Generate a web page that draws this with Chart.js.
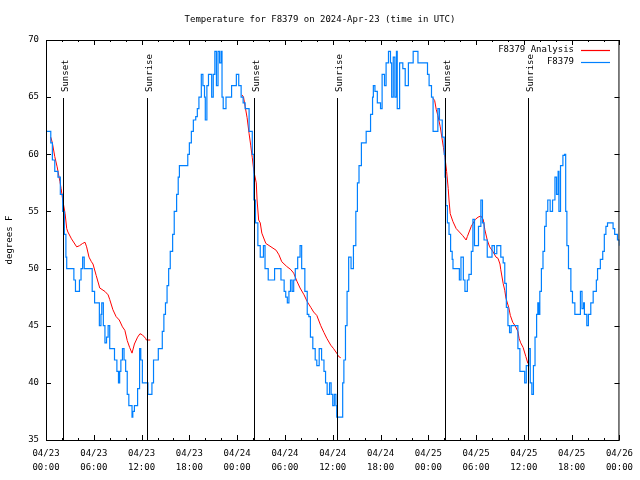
<!DOCTYPE html>
<html>
<head>
<meta charset="utf-8">
<script src="https://cdn.jsdelivr.net/npm/chart.js@4.4.1/dist/chart.umd.min.js"></script>
<style>
  html, body { margin: 0; padding: 0; background: #fff; }
  canvas { display: block; }
</style>
</head>
<body>
<canvas id="chart" width="640" height="480"></canvas>
<script>
// hours since 2024-04-23 00:00 UTC
const tickDates = ["04/23", "04/23", "04/23", "04/23", "04/24", "04/24", "04/24", "04/24", "04/25", "04/25", "04/25", "04/25", "04/26"];
const tickTimes = ["00:00", "06:00", "12:00", "18:00", "00:00", "06:00", "12:00", "18:00", "00:00", "06:00", "12:00", "18:00", "00:00"];

const sunHours = [2.15, 12.65, 26.12, 36.53, 50.15, 60.5];
const sunLabels = ["Sunset", "Sunrise", "Sunset", "Sunrise", "Sunset", "Sunrise"];

const stationHours = [
  0, 0.4, 0.6, 0.8, 1.1, 1.5, 1.8, 2.1, 2.3, 2.5, 2.6, 3.25, 3.5, 3.7, 3.95, 4.2, 4.4, 4.6, 4.8, 5.6,
  5.8, 6.1, 6.5, 6.7, 6.9, 7.0, 7.2, 7.4, 7.6, 7.8, 8.0, 8.3, 8.6, 8.9, 9.1, 9.25, 9.4, 9.6, 9.8, 10.0,
  10.2, 10.4, 10.6, 10.8, 10.9, 11.1, 11.4, 11.5, 11.75, 11.9, 12.1, 12.6, 12.8, 13.1, 13.3, 13.5, 13.9, 14.1, 14.4, 14.6,
  14.8, 15.0, 15.2, 15.4, 15.6, 15.9, 16.1, 16.4, 16.6, 16.75, 17.6, 17.8, 18.0, 18.25, 18.5, 18.8, 19.0, 19.2, 19.5, 19.7,
  19.9, 20.0, 20.2, 20.4, 20.6, 20.8, 21.0, 21.2, 21.4, 21.6, 21.8, 22.0, 22.1, 22.25, 22.6, 23.0, 23.3, 23.7, 23.9, 24.2,
  24.5, 24.75, 25.0, 25.5, 25.9, 26.1, 26.3, 26.6, 26.9, 27.1, 27.3, 27.5, 27.9, 28.4, 28.7, 29.2, 29.5, 29.9, 30.1, 30.3,
  30.5, 30.7, 30.9, 31.1, 31.3, 31.6, 31.9, 32.1, 32.5, 32.8, 33.0, 33.2, 33.5, 33.8, 34.0, 34.3, 34.6, 34.9, 35.1, 35.3,
  35.6, 35.8, 36.0, 36.2, 36.4, 36.5, 37.0, 37.25, 37.4, 37.6, 37.8, 38.0, 38.3, 38.6, 38.9, 39.1, 39.3, 39.6, 39.9, 40.2,
  40.75, 41.0, 41.1, 41.3, 41.6, 42.0, 42.2, 42.5, 42.7, 43.0, 43.25, 43.4, 43.6, 43.8, 44.0, 44.1, 44.4, 44.8, 45.1, 45.5,
  46.1, 46.4, 46.7, 47.75, 47.9, 48.1, 48.4, 48.6, 49.0, 49.2, 49.4, 49.75, 50.0, 50.1, 50.2, 50.4, 50.6, 50.8, 51.0, 51.1,
  51.75, 51.9, 52.1, 52.4, 52.6, 52.9, 53.1, 53.4, 53.6, 53.8, 54.1, 54.3, 54.6, 54.8, 55.0, 55.4, 55.8, 56.0, 56.3, 56.6,
  56.9, 57.1, 57.4, 57.6, 57.8, 58.0, 58.2, 58.4, 58.75, 59.1, 59.25, 59.5, 59.9, 60.1, 60.3, 60.6, 60.8, 61.0, 61.2, 61.4,
  61.6, 61.75, 61.9, 62.0, 62.2, 62.4, 62.6, 62.8, 63.0, 63.3, 63.6, 63.9, 64.1, 64.3, 64.4, 64.6, 64.9, 65.1, 65.25, 65.4,
  65.6, 65.9, 66.1, 66.4, 67.0, 67.1, 67.3, 67.5, 67.6, 67.9, 68.1, 68.4, 68.7, 68.9, 69.1, 69.25, 69.6, 69.9, 70.1, 70.3,
  70.5, 71.0, 71.2, 71.4, 71.75, 72.0
];
const stationTemps = [
  62, 62, 61, 59.5, 58.5, 58, 56.5, 55, 53, 51, 50, 50, 49, 48, 48, 49, 50, 51, 50, 50,
  48, 47, 47, 45, 46, 47, 45, 43.5, 44, 45, 43, 43, 42, 41, 40, 41, 42, 43, 42, 41,
  39, 38, 38, 37, 37.5, 38, 38, 39.5, 43, 42, 40, 40, 39, 39, 40, 42, 42, 43, 43, 44.5,
  46, 47, 48.5, 50, 51.5, 53, 55, 56.5, 58, 59, 59, 60, 61, 62, 63, 63.3, 64, 65, 67, 66,
  65, 63, 66, 67, 67, 65, 67, 69, 66, 69, 68, 69, 65, 64, 65, 65, 66, 66, 67, 66,
  65, 64.5, 64, 62, 60, 56, 54, 52, 51, 51, 52, 50, 49, 49, 50, 50, 49, 48, 47.5, 47,
  48, 49, 48, 49, 50, 51, 52, 50, 48, 46, 45.8, 44, 43, 42, 41.5, 43, 42, 41, 40, 39,
  40, 39, 38, 39, 38, 37, 37, 40, 42, 45, 48, 51, 50, 52, 55, 57.5, 59, 61, 61, 62,
  63.5, 65, 66, 65.5, 64.5, 64, 67, 66, 68, 69, 68, 65, 68.5, 65, 69, 64, 68, 67.5, 66, 68,
  69, 69, 68, 68, 67, 66, 65, 62, 62, 64, 63, 61.5, 60, 58, 55.5, 54, 53, 51.5, 50.8, 50,
  50, 49, 51, 49, 48, 49, 49.5, 51.5, 54.3, 52, 52, 53.7, 56, 54, 52.5, 51, 51, 52, 51.3, 52,
  52, 51, 50.5, 48.7, 46.6, 45, 44.4, 45, 45, 45, 43, 41, 41, 40, 41.5, 43, 40, 39, 41.5, 44,
  46, 47, 46, 48, 50, 51.5, 53.7, 55, 56, 55, 56, 58, 56.5, 58.5, 55, 59, 59.9, 60, 55, 52,
  50, 48, 47, 46, 46, 48, 46.5, 47, 46, 45, 46, 47, 48, 48, 49, 50, 50.8, 51.5, 53, 53.7,
  54, 54, 53.5, 53, 52.5, 52
];

// null = gap between analysis runs
const analysisHours = [
  0.6, 0.8, 1.1, 1.4, 1.75, 1.9, 2.1, 2.4, 2.6, 2.75, 3.2, 3.85, 4.2, 4.6, 4.9, 5.1, 5.4, 5.7, 5.9, 6.3,
  6.75, 7.4, 7.8, 8.0, 8.4, 8.8, 9.2, 9.6, 9.9, 10.2, 10.5, 10.8, 11.1, 11.5, 11.8, 12.1, 12.5, 12.6, 13.1,
  18,
  24.6, 24.8, 25.0, 25.25, 25.5, 25.7, 25.9, 26.1, 26.4, 26.5, 26.7, 26.9, 27.1, 27.6, 28.25, 28.9, 29.25, 29.6, 30.2, 30.75,
  31.1, 31.5, 31.9, 32.4, 32.8, 33.25, 33.6, 34.0, 34.5, 34.9, 35.25, 35.75, 36.1, 36.5, 36.75, 37.0,
  43,
  48.6, 48.8, 49.0, 49.2, 49.5, 49.7, 49.9, 50.1, 50.3, 50.5, 50.6, 50.75, 51.1, 51.5, 51.9, 52.3, 52.75, 52.9, 53.4, 53.9,
  54.25, 54.6, 54.9, 55.1, 55.4, 55.7, 56.1, 56.5, 56.75, 57.0, 57.1, 57.4, 57.6, 57.75, 58.1, 58.3, 58.6, 58.9, 59.25, 59.4,
  59.6, 59.9, 60.25, 60.5
];
const analysisTemps = [
  61.5, 61, 59.8, 58.9, 57.6, 57, 56, 54.8, 53.5, 53.2, 52.6, 51.9, 52, 52.2, 52.3, 51.9, 51, 50.6, 50.4, 49.4,
  48.3, 48, 47.7, 47.3, 46.4, 45.8, 45.5, 44.9, 44.6, 43.7, 43.1, 42.6, 43.4, 44, 44.3, 44.2, 43.9, 43.75, 43.75,
  null,
  65.2, 65, 64.2, 63.2, 61.8, 60.8, 59.7, 58.5, 57.5, 56, 54.25, 54, 53.1, 52.2, 51.9, 51.6, 51.2, 50.6, 50.2, 49.9,
  49.6, 48.9, 48.3, 47.7, 47.1, 46.6, 46.2, 45.9, 45, 44.4, 43.9, 43.3, 43, 42.6, 42.3, 42.2,
  null,
  64.9, 64.7, 63.9, 63.4, 62.4, 61.5, 60.6, 59.7, 58.5, 57, 56, 54.8, 54.1, 53.5, 53.2, 52.9, 52.5, 52.8, 53.7, 54.3,
  54.5, 54.6, 54.3, 53.4, 52.5, 51.9, 51.5, 51, 50.9, 50.4, 49.9, 48.7, 48.1, 47.4, 46.6, 45.9, 45.3, 45, 44.5, 43.9,
  43.5, 43.1, 42.3, 41.7
];

const FONT = "DejaVu Sans Mono";
const RED = "#ff0000";
const BLUE = "#0080ff";

const toPoints = (xs, ys) => xs.map((x, i) => ({ x: x, y: ys[i] }));

// frame, inward ticks, sunrise/sunset markers, title and legend
const gnuplotLook = {
  id: "gnuplotLook",
  afterDatasetsDraw(chart) {
    const ctx = chart.ctx;
    const xs = chart.scales.x;
    const ys = chart.scales.y;
    const { left, right, top, bottom } = chart.chartArea;

    ctx.save();
    ctx.strokeStyle = "#000";
    ctx.lineWidth = 1;

    // sun markers
    ctx.font = `9px ${FONT}`;
    ctx.fillStyle = "#000";
    sunHours.forEach((h, i) => {
      const px = Math.round(xs.getPixelForValue(h)) + 0.5;
      ctx.beginPath();
      ctx.moveTo(px, 98);
      ctx.lineTo(px, bottom);
      ctx.stroke();
      ctx.save();
      ctx.translate(px + 4, 92);
      ctx.rotate(-Math.PI / 2);
      ctx.textAlign = "left";
      ctx.textBaseline = "alphabetic";
      ctx.fillText(sunLabels[i], 0, 0);
      ctx.restore();
    });

    // border
    ctx.strokeRect(left + 0.5, top + 0.5, right - left - 1, bottom - top);

    // x ticks, every 2 hours, longer every 6
    ctx.beginPath();
    for (let h = 0; h <= 72; h += 2) {
      const px = Math.round(xs.getPixelForValue(h)) + 0.5;
      const len = h % 6 === 0 ? 5 : 2;
      ctx.moveTo(px, bottom);
      ctx.lineTo(px, bottom - len);
      ctx.moveTo(px, top);
      ctx.lineTo(px, top + len);
    }
    // y ticks
    for (let v = 35; v <= 70; v += 5) {
      const py = Math.round(ys.getPixelForValue(v)) + 0.5;
      ctx.moveTo(left, py);
      ctx.lineTo(left + 5, py);
      ctx.moveTo(right, py);
      ctx.lineTo(right - 5, py);
    }
    ctx.stroke();

    // title
    ctx.font = `9px ${FONT}`;
    ctx.textAlign = "center";
    ctx.textBaseline = "middle";
    ctx.fillText("Temperature for F8379 on 2024-Apr-23 (time in UTC)", 320, 20);

    // legend
    const items = [
      { text: "F8379 Analysis", color: RED },
      { text: "F8379", color: BLUE }
    ];
    items.forEach((it, i) => {
      const y = 50 + i * 12;
      ctx.fillStyle = "#000";
      ctx.textAlign = "right";
      ctx.fillText(it.text, 574, y);
      ctx.strokeStyle = it.color;
      ctx.lineWidth = 1.2;
      ctx.beginPath();
      ctx.moveTo(581, y + 0.5);
      ctx.lineTo(610, y + 0.5);
      ctx.stroke();
    });
    ctx.restore();
  }
};

new Chart(document.getElementById("chart"), {
  type: "line",
  data: {
    datasets: [
      {
        label: "F8379",
        data: toPoints(stationHours, stationTemps),
        borderColor: BLUE,
        borderWidth: 1.2,
        pointRadius: 0,
        stepped: true,
        fill: false,
        order: 0
      },
      {
        label: "F8379 Analysis",
        data: toPoints(analysisHours, analysisTemps),
        borderColor: RED,
        borderWidth: 1,
        pointRadius: 0,
        tension: 0,
        spanGaps: false,
        fill: false,
        order: 1
      }
    ]
  },
  options: {
    responsive: false,
    animation: false,
    events: [],
    layout: { padding: { top: 40, right: 18, bottom: 0, left: 0 } },
    plugins: {
      legend: { display: false },
      tooltip: { enabled: false },
      title: { display: false }
    },
    scales: {
      x: {
        type: "linear",
        min: 0,
        max: 72,
        grid: { display: false, drawTicks: false },
        border: { display: false },
        afterFit: (scale) => { scale.height = 40; },
        ticks: {
          stepSize: 6,
          autoSkip: false,
          maxRotation: 0,
          padding: 7,
          color: "#000",
          font: { family: FONT, size: 9, lineHeight: "14px" },
          callback: (v) => {
            const i = Math.round(v / 6);
            return [tickDates[i], tickTimes[i]];
          }
        }
      },
      y: {
        min: 35,
        max: 70,
        grid: { display: false, drawTicks: false },
        border: { display: false },
        afterFit: (scale) => { scale.width = 46; },
        title: {
          display: true,
          text: "degrees F",
          color: "#000",
          font: { family: FONT, size: 9 },
          padding: { top: 4, bottom: 0 }
        },
        ticks: {
          stepSize: 5,
          padding: 7,
          color: "#000",
          font: { family: FONT, size: 9 }
        }
      }
    }
  },
  plugins: [gnuplotLook]
});
</script>
</body>
</html>
